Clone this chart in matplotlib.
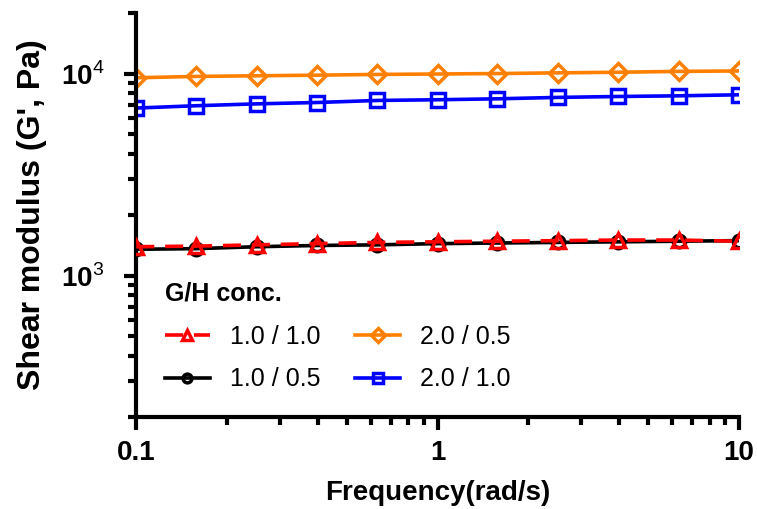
import numpy as np
import matplotlib
matplotlib.use("Agg")
import matplotlib.pyplot as plt
from matplotlib.ticker import LogLocator, FixedLocator, NullFormatter, FuncFormatter

plt.rcParams['font.family'] = ['Liberation Sans', 'DejaVu Sans']
plt.rcParams['mathtext.fontset'] = 'custom'
plt.rcParams['mathtext.rm'] = 'Liberation Sans'
plt.rcParams['mathtext.bf'] = 'Liberation Sans:bold'

# frequency sweep (rad/s)
freq = [0.1, 0.158, 0.251, 0.398, 0.631, 1.0, 1.58, 2.51, 3.98, 6.31, 10.0]

# storage modulus G' (Pa) for each G/H concentration
g_10_10 = [1390, 1400, 1420, 1440, 1460, 1470, 1480, 1490, 1500, 1500, 1480]
g_10_05 = [1350, 1360, 1390, 1410, 1420, 1440, 1450, 1460, 1470, 1480, 1490]
g_20_05 = [9530, 9680, 9750, 9820, 9900, 9950, 10000, 10080, 10150, 10250, 10300]
g_20_10 = [6750, 6930, 7080, 7190, 7360, 7420, 7500, 7620, 7700, 7760, 7850]

labels = ['1.0 / 1.0', '1.0 / 0.5', '2.0 / 0.5', '2.0 / 1.0']

fig = plt.figure(figsize=(7.57, 5.09), dpi=100)
ax = fig.add_axes([0.18, 0.181, 0.796, 0.794])

lw = 2.6
l1, = ax.plot(freq, g_10_10, '--', color='#ff0000', lw=lw, marker='^', ms=10,
              mfc='none', mec='#ff0000', mew=2.5, dashes=(5, 3), zorder=4)
l2, = ax.plot(freq, g_10_05, '-', color='black', lw=lw, marker='o', ms=9,
              mfc='none', mec='black', mew=2.5, zorder=3)
l3, = ax.plot(freq, g_20_05, '-', color='#ff8000', lw=lw, marker='D', ms=9.5,
              mfc='none', mec='#ff8000', mew=2.5)
l4, = ax.plot(freq, g_20_10, '-', color='#0000ff', lw=lw, marker='s', ms=9.5,
              mfc='none', mec='#0000ff', mew=2.5)

ax.set_xscale('log')
ax.set_yscale('log')
ax.set_xlim(0.1, 10)
ax.set_ylim(200, 20000)

for s in ['top', 'right']:
    ax.spines[s].set_visible(False)
for s in ['left', 'bottom']:
    ax.spines[s].set_linewidth(3)

ax.xaxis.set_major_locator(FixedLocator([0.1, 1, 10]))
ax.xaxis.set_minor_locator(LogLocator(base=10, subs=np.arange(2, 10)))
ax.xaxis.set_major_formatter(FuncFormatter(lambda v, p: '%g' % v))
ax.xaxis.set_minor_formatter(NullFormatter())
ax.yaxis.set_major_locator(FixedLocator([1e3, 1e4]))
ax.yaxis.set_major_formatter(FuncFormatter(
    lambda v, p: r'$\mathbf{10}^{\mathrm{%d}}$' % round(np.log10(v))))
ax.yaxis.set_minor_locator(LogLocator(base=10, subs=np.arange(2, 10)))
ax.yaxis.set_minor_formatter(NullFormatter())

ax.tick_params(which='major', direction='out', length=9, width=3, labelsize=20)
ax.tick_params(which='minor', direction='out', length=6, width=3)
ax.tick_params(axis='x', which='major', pad=8)
ax.tick_params(axis='y', which='major', pad=14)
for t in ax.get_xticklabels():
    t.set_fontweight('bold')

ax.set_xlabel('Frequency(rad/s)', fontsize=20, fontweight='bold', labelpad=10)
ax.set_ylabel("Shear modulus (G', Pa)", fontsize=23, fontweight='bold', labelpad=10)

leg = ax.legend([l1, l2, l3, l4], labels, ncol=2, frameon=False, fontsize=18,
                title='G/H conc.', title_fontproperties={'weight': 'bold', 'size': 18},
                loc='upper left', bbox_to_anchor=(0.01, 0.39), handlelength=1.8,
                handletextpad=0.8, markerscale=0.7, columnspacing=1.4,
                labelspacing=0.75, alignment='left')

fig.savefig('out.png', dpi=100)
